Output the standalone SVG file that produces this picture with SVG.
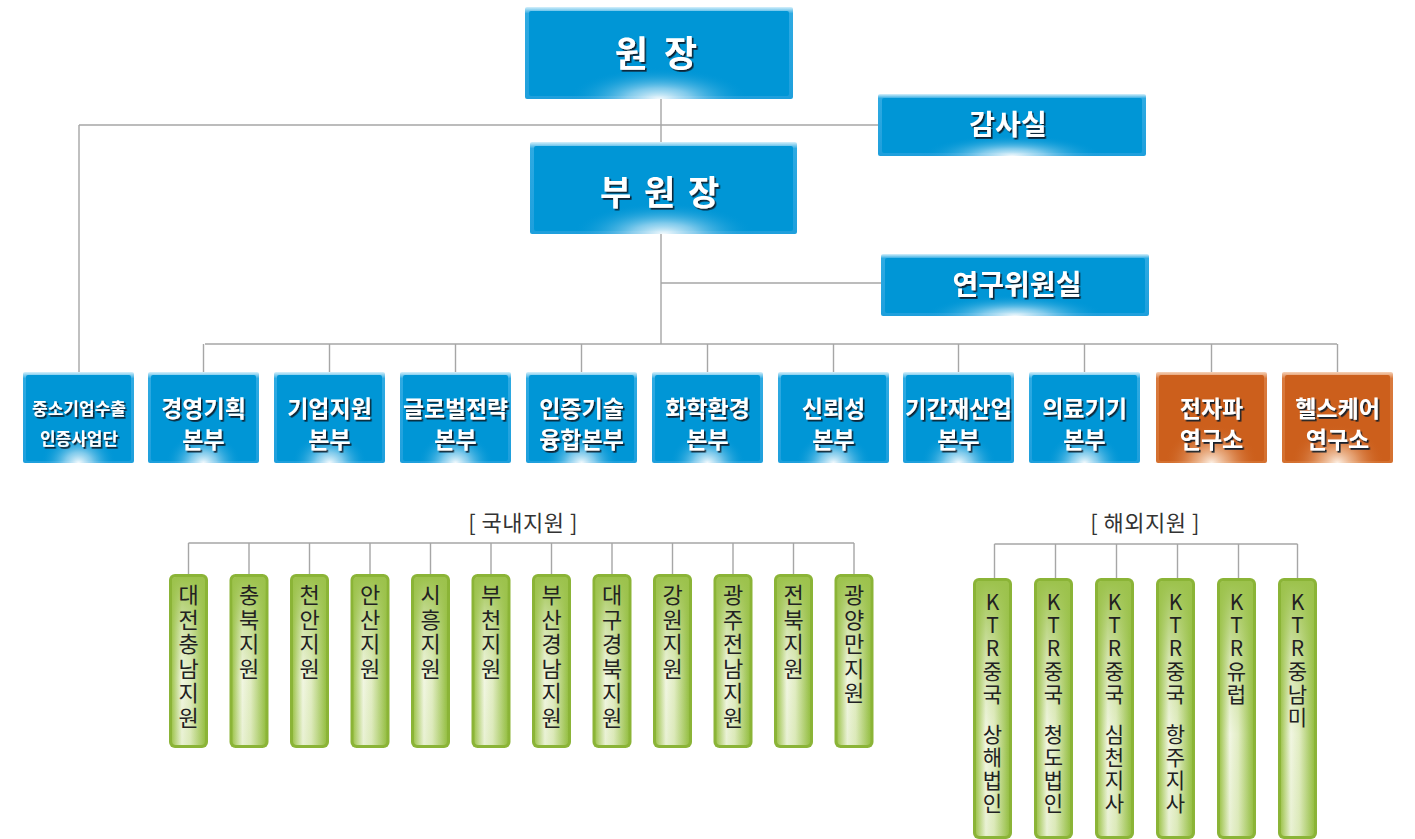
<svg xmlns="http://www.w3.org/2000/svg" width="1415" height="839" viewBox="0 0 1415 839">
<defs>
<linearGradient id="gBlueEdge" x1="0" y1="0" x2="0" y2="1"><stop offset="0" stop-color="#d6f0fb"/><stop offset="0.07" stop-color="#2eaae2"/><stop offset="1" stop-color="#1e9fdc"/></linearGradient>
<radialGradient id="gBlueGlow" cx="0.5" cy="1" r="0.34" fx="0.5" fy="1"><stop offset="0" stop-color="#ffffff" stop-opacity="0.95"/><stop offset="0.35" stop-color="#c4e6f7" stop-opacity="0.65"/><stop offset="1" stop-color="#0096d6" stop-opacity="0"/></radialGradient>
<linearGradient id="gOrEdge" x1="0" y1="0" x2="0" y2="1"><stop offset="0" stop-color="#f6d2b8"/><stop offset="0.07" stop-color="#d97a3e"/><stop offset="1" stop-color="#d4702f"/></linearGradient>
<radialGradient id="gOrGlow" cx="0.5" cy="1" r="0.42" fx="0.5" fy="1"><stop offset="0" stop-color="#fff6ec" stop-opacity="0.95"/><stop offset="0.4" stop-color="#f2c4a0" stop-opacity="0.6"/><stop offset="1" stop-color="#cc5f1c" stop-opacity="0"/></radialGradient>
<linearGradient id="gGreenH" x1="0" y1="0" x2="1" y2="0"><stop offset="0" stop-color="#a2c653"/><stop offset="0.3" stop-color="#f1f6e2"/><stop offset="0.55" stop-color="#e2edc4"/><stop offset="1" stop-color="#96bf45"/></linearGradient>
<linearGradient id="gGreenV" x1="0" y1="0" x2="0" y2="1"><stop offset="0" stop-color="#9cc24c" stop-opacity="1"/><stop offset="0.3" stop-color="#9cc24c" stop-opacity="0.35"/><stop offset="0.6" stop-color="#9cc24c" stop-opacity="0"/><stop offset="1" stop-color="#9cc24c" stop-opacity="0.1"/></linearGradient>
<filter id="ts" x="-10%" y="-20%" width="130%" height="150%"><feDropShadow dx="1.6" dy="1.8" stdDeviation="0.5" flood-color="#111d2a" flood-opacity="0.95"/></filter>
</defs>
<style>
.edgeB{fill:url(#gBlueEdge)}
.coreB{fill:#0096d6}
.glowB{fill:url(#gBlueGlow)}
.edgeO{fill:url(#gOrEdge)}
.coreO{fill:#cc5f1c}
.glowO{fill:url(#gOrGlow)}
.gOut{fill:#8bb437}
.gIn{fill:url(#gGreenH)}
.gOv{fill:url(#gGreenV)}
.tw{font-family:"Noto Sans CJK KR","Noto Sans",sans-serif;font-weight:700;fill:#ffffff;text-anchor:middle;dominant-baseline:central;filter:url(#ts)}
.tv{font-family:"Noto Sans CJK KR","Noto Sans",sans-serif;font-weight:400;fill:#222222;font-size:21px;text-anchor:middle;dominant-baseline:central}
.dv{font-size:22px}
.lab{font-family:"Noto Sans CJK KR","Noto Sans",sans-serif;font-weight:400;fill:#333333;font-size:22px;letter-spacing:0.5px;text-anchor:middle;dominant-baseline:central}
.ln{stroke:#a6a6a6;stroke-width:1.4;fill:none}
</style>
<rect width="1415" height="839" fill="#ffffff"/>
<g id="connectors">
<path class="ln" d="M661 98V142M661 234V344M79 125H878M79 125V372M661 283H881M205 344H1337"/>
<path class="ln" d="M203.5 344V372M329.5 344V372M455.5 344V372M581.5 344V372M707.5 344V372M833.5 344V372M958.5 344V372M1084.5 344V372M1211.5 344V372M1337.5 344V372"/>
<path class="ln" d="M188.5 543H854M188.5 543V574M249 543V574M309.5 543V574M370 543V574M430.5 543V574M491 543V574M551.5 543V574M612 543V574M672.5 543V574M733 543V574M793.5 543V574M854 543V574"/>
<path class="ln" d="M994.5 544H1297.5M994.5 544V578M1055.5 544V578M1116.5 544V578M1177.5 544V578M1238.5 544V578M1297.5 544V578"/>
</g>
<g id="n-wonjang">
<rect class="edgeB" x="525" y="7" width="268" height="92" rx="2"/>
<rect class="coreB" x="529" y="11" width="260" height="85" rx="2"/>
<rect class="glowB" x="525" y="7" width="268" height="92" rx="2"/>
<text class="tw" x="658" y="51" font-size="36" letter-spacing="4">원 장</text>
</g>
<g id="n-gamsa">
<rect class="edgeB" x="878" y="94" width="268" height="62" rx="2"/>
<rect class="coreB" x="882" y="98" width="260" height="55" rx="2"/>
<rect class="glowB" x="878" y="94" width="268" height="62" rx="2"/>
<text class="tw" x="1008" y="123" font-size="28">감사실</text>
</g>
<g id="n-buwonjang">
<rect class="edgeB" x="530" y="142" width="267" height="92" rx="2"/>
<rect class="coreB" x="534" y="146" width="259" height="85" rx="2"/>
<rect class="glowB" x="530" y="142" width="267" height="92" rx="2"/>
<text class="tw" x="661" y="190" font-size="34" letter-spacing="2.5">부 원 장</text>
</g>
<g id="n-yeongu">
<rect class="edgeB" x="881" y="254" width="268" height="62" rx="2"/>
<rect class="coreB" x="885" y="258" width="260" height="55" rx="2"/>
<rect class="glowB" x="881" y="254" width="268" height="62" rx="2"/>
<text class="tw" x="1017" y="283" font-size="28">연구위원실</text>
</g>
<g id="n-r0">
<rect class="edgeB" x="23" y="372" width="111" height="91" rx="2"/>
<rect class="coreB" x="26" y="375" width="105" height="86" rx="2"/>
<rect class="glowB" x="23" y="372" width="111" height="91" rx="2"/>
<text class="tw" x="79" y="407" font-size="17">중소기업수출</text>
<text class="tw" x="79" y="437" font-size="17">인증사업단</text>
</g>
<g id="n-r1">
<rect class="edgeB" x="148" y="372" width="111" height="91" rx="2"/>
<rect class="coreB" x="151" y="375" width="105" height="86" rx="2"/>
<rect class="glowB" x="148" y="372" width="111" height="91" rx="2"/>
<text class="tw" x="203.5" y="407" font-size="23">경영기획</text>
<text class="tw" x="203.5" y="438" font-size="23">본부</text>
</g>
<g id="n-r2">
<rect class="edgeB" x="274" y="372" width="111" height="91" rx="2"/>
<rect class="coreB" x="277" y="375" width="105" height="86" rx="2"/>
<rect class="glowB" x="274" y="372" width="111" height="91" rx="2"/>
<text class="tw" x="329.5" y="407" font-size="23">기업지원</text>
<text class="tw" x="329.5" y="438" font-size="23">본부</text>
</g>
<g id="n-r3">
<rect class="edgeB" x="400" y="372" width="111" height="91" rx="2"/>
<rect class="coreB" x="403" y="375" width="105" height="86" rx="2"/>
<rect class="glowB" x="400" y="372" width="111" height="91" rx="2"/>
<text class="tw" x="455.5" y="407" font-size="23" textLength="105" lengthAdjust="spacingAndGlyphs">글로벌전략</text>
<text class="tw" x="455.5" y="438" font-size="23">본부</text>
</g>
<g id="n-r4">
<rect class="edgeB" x="526" y="372" width="111" height="91" rx="2"/>
<rect class="coreB" x="529" y="375" width="105" height="86" rx="2"/>
<rect class="glowB" x="526" y="372" width="111" height="91" rx="2"/>
<text class="tw" x="581.5" y="407" font-size="23">인증기술</text>
<text class="tw" x="581.5" y="438" font-size="23">융합본부</text>
</g>
<g id="n-r5">
<rect class="edgeB" x="652" y="372" width="111" height="91" rx="2"/>
<rect class="coreB" x="655" y="375" width="105" height="86" rx="2"/>
<rect class="glowB" x="652" y="372" width="111" height="91" rx="2"/>
<text class="tw" x="707.5" y="407" font-size="23">화학환경</text>
<text class="tw" x="707.5" y="438" font-size="23">본부</text>
</g>
<g id="n-r6">
<rect class="edgeB" x="778" y="372" width="111" height="91" rx="2"/>
<rect class="coreB" x="781" y="375" width="105" height="86" rx="2"/>
<rect class="glowB" x="778" y="372" width="111" height="91" rx="2"/>
<text class="tw" x="833.5" y="407" font-size="23">신뢰성</text>
<text class="tw" x="833.5" y="438" font-size="23">본부</text>
</g>
<g id="n-r7">
<rect class="edgeB" x="903" y="372" width="111" height="91" rx="2"/>
<rect class="coreB" x="906" y="375" width="105" height="86" rx="2"/>
<rect class="glowB" x="903" y="372" width="111" height="91" rx="2"/>
<text class="tw" x="958.5" y="407" font-size="23" textLength="107" lengthAdjust="spacingAndGlyphs">기간재산업</text>
<text class="tw" x="958.5" y="438" font-size="23">본부</text>
</g>
<g id="n-r8">
<rect class="edgeB" x="1029" y="372" width="111" height="91" rx="2"/>
<rect class="coreB" x="1032" y="375" width="105" height="86" rx="2"/>
<rect class="glowB" x="1029" y="372" width="111" height="91" rx="2"/>
<text class="tw" x="1084.5" y="407" font-size="23">의료기기</text>
<text class="tw" x="1084.5" y="438" font-size="23">본부</text>
</g>
<g id="n-r9">
<rect class="edgeO" x="1156" y="372" width="111" height="91" rx="2"/>
<rect class="coreO" x="1159" y="375" width="105" height="86" rx="2"/>
<rect class="glowO" x="1156" y="372" width="111" height="91" rx="2"/>
<text class="tw" x="1211.5" y="407" font-size="23">전자파</text>
<text class="tw" x="1211.5" y="438" font-size="23">연구소</text>
</g>
<g id="n-r10">
<rect class="edgeO" x="1282" y="372" width="111" height="91" rx="2"/>
<rect class="coreO" x="1285" y="375" width="105" height="86" rx="2"/>
<rect class="glowO" x="1282" y="372" width="111" height="91" rx="2"/>
<text class="tw" x="1337.5" y="407" font-size="23">헬스케어</text>
<text class="tw" x="1337.5" y="438" font-size="23">연구소</text>
</g>
<g id="label-domestic"><text class="lab" x="523" y="521">[ 국내지원 ]</text></g>
<g id="label-overseas"><text class="lab" x="1145" y="521">[ 해외지원 ]</text></g>
<g id="d0"><rect class="gOut" x="169" y="574" width="39" height="174" rx="6"/><rect class="gIn" x="172" y="577" width="33" height="168" rx="4"/><rect class="gOv" x="172" y="577" width="33" height="168" rx="4"/>
<text class="tv dv"><tspan x="188.5" y="593">대</tspan><tspan x="188.5" y="617.5">전</tspan><tspan x="188.5" y="642">충</tspan><tspan x="188.5" y="666.5">남</tspan><tspan x="188.5" y="691">지</tspan><tspan x="188.5" y="715.5">원</tspan></text></g>
<g id="d1"><rect class="gOut" x="229.5" y="574" width="39" height="174" rx="6"/><rect class="gIn" x="232.5" y="577" width="33" height="168" rx="4"/><rect class="gOv" x="232.5" y="577" width="33" height="168" rx="4"/>
<text class="tv dv"><tspan x="249" y="593">충</tspan><tspan x="249" y="617.5">북</tspan><tspan x="249" y="642">지</tspan><tspan x="249" y="666.5">원</tspan></text></g>
<g id="d2"><rect class="gOut" x="290" y="574" width="39" height="174" rx="6"/><rect class="gIn" x="293" y="577" width="33" height="168" rx="4"/><rect class="gOv" x="293" y="577" width="33" height="168" rx="4"/>
<text class="tv dv"><tspan x="309.5" y="593">천</tspan><tspan x="309.5" y="617.5">안</tspan><tspan x="309.5" y="642">지</tspan><tspan x="309.5" y="666.5">원</tspan></text></g>
<g id="d3"><rect class="gOut" x="350.5" y="574" width="39" height="174" rx="6"/><rect class="gIn" x="353.5" y="577" width="33" height="168" rx="4"/><rect class="gOv" x="353.5" y="577" width="33" height="168" rx="4"/>
<text class="tv dv"><tspan x="370" y="593">안</tspan><tspan x="370" y="617.5">산</tspan><tspan x="370" y="642">지</tspan><tspan x="370" y="666.5">원</tspan></text></g>
<g id="d4"><rect class="gOut" x="411" y="574" width="39" height="174" rx="6"/><rect class="gIn" x="414" y="577" width="33" height="168" rx="4"/><rect class="gOv" x="414" y="577" width="33" height="168" rx="4"/>
<text class="tv dv"><tspan x="430.5" y="593">시</tspan><tspan x="430.5" y="617.5">흥</tspan><tspan x="430.5" y="642">지</tspan><tspan x="430.5" y="666.5">원</tspan></text></g>
<g id="d5"><rect class="gOut" x="471.5" y="574" width="39" height="174" rx="6"/><rect class="gIn" x="474.5" y="577" width="33" height="168" rx="4"/><rect class="gOv" x="474.5" y="577" width="33" height="168" rx="4"/>
<text class="tv dv"><tspan x="491" y="593">부</tspan><tspan x="491" y="617.5">천</tspan><tspan x="491" y="642">지</tspan><tspan x="491" y="666.5">원</tspan></text></g>
<g id="d6"><rect class="gOut" x="532" y="574" width="39" height="174" rx="6"/><rect class="gIn" x="535" y="577" width="33" height="168" rx="4"/><rect class="gOv" x="535" y="577" width="33" height="168" rx="4"/>
<text class="tv dv"><tspan x="551.5" y="593">부</tspan><tspan x="551.5" y="617.5">산</tspan><tspan x="551.5" y="642">경</tspan><tspan x="551.5" y="666.5">남</tspan><tspan x="551.5" y="691">지</tspan><tspan x="551.5" y="715.5">원</tspan></text></g>
<g id="d7"><rect class="gOut" x="592.5" y="574" width="39" height="174" rx="6"/><rect class="gIn" x="595.5" y="577" width="33" height="168" rx="4"/><rect class="gOv" x="595.5" y="577" width="33" height="168" rx="4"/>
<text class="tv dv"><tspan x="612" y="593">대</tspan><tspan x="612" y="617.5">구</tspan><tspan x="612" y="642">경</tspan><tspan x="612" y="666.5">북</tspan><tspan x="612" y="691">지</tspan><tspan x="612" y="715.5">원</tspan></text></g>
<g id="d8"><rect class="gOut" x="653" y="574" width="39" height="174" rx="6"/><rect class="gIn" x="656" y="577" width="33" height="168" rx="4"/><rect class="gOv" x="656" y="577" width="33" height="168" rx="4"/>
<text class="tv dv"><tspan x="672.5" y="593">강</tspan><tspan x="672.5" y="617.5">원</tspan><tspan x="672.5" y="642">지</tspan><tspan x="672.5" y="666.5">원</tspan></text></g>
<g id="d9"><rect class="gOut" x="713.5" y="574" width="39" height="174" rx="6"/><rect class="gIn" x="716.5" y="577" width="33" height="168" rx="4"/><rect class="gOv" x="716.5" y="577" width="33" height="168" rx="4"/>
<text class="tv dv"><tspan x="733" y="593">광</tspan><tspan x="733" y="617.5">주</tspan><tspan x="733" y="642">전</tspan><tspan x="733" y="666.5">남</tspan><tspan x="733" y="691">지</tspan><tspan x="733" y="715.5">원</tspan></text></g>
<g id="d10"><rect class="gOut" x="774" y="574" width="39" height="174" rx="6"/><rect class="gIn" x="777" y="577" width="33" height="168" rx="4"/><rect class="gOv" x="777" y="577" width="33" height="168" rx="4"/>
<text class="tv dv"><tspan x="793.5" y="593">전</tspan><tspan x="793.5" y="617.5">북</tspan><tspan x="793.5" y="642">지</tspan><tspan x="793.5" y="666.5">원</tspan></text></g>
<g id="d11"><rect class="gOut" x="834.5" y="574" width="39" height="174" rx="6"/><rect class="gIn" x="837.5" y="577" width="33" height="168" rx="4"/><rect class="gOv" x="837.5" y="577" width="33" height="168" rx="4"/>
<text class="tv dv"><tspan x="854" y="593">광</tspan><tspan x="854" y="617.5">양</tspan><tspan x="854" y="642">만</tspan><tspan x="854" y="666.5">지</tspan><tspan x="854" y="691">원</tspan></text></g>
<g id="o0"><rect class="gOut" x="973" y="578" width="39" height="261" rx="6"/><rect class="gIn" x="976" y="581" width="33" height="255" rx="4"/><rect class="gOv" x="976" y="581" width="33" height="255" rx="4"/>
<text class="tv" xml:space="preserve"><tspan x="992.5" y="601">K</tspan><tspan x="992.5" y="624">T</tspan><tspan x="992.5" y="647">R</tspan><tspan x="992.5" y="670">중</tspan><tspan x="992.5" y="693">국</tspan><tspan x="992.5" y="713"> </tspan><tspan x="992.5" y="733">상</tspan><tspan x="992.5" y="756">해</tspan><tspan x="992.5" y="779">법</tspan><tspan x="992.5" y="802">인</tspan></text></g>
<g id="o1"><rect class="gOut" x="1034" y="578" width="39" height="261" rx="6"/><rect class="gIn" x="1037" y="581" width="33" height="255" rx="4"/><rect class="gOv" x="1037" y="581" width="33" height="255" rx="4"/>
<text class="tv" xml:space="preserve"><tspan x="1053.5" y="601">K</tspan><tspan x="1053.5" y="624">T</tspan><tspan x="1053.5" y="647">R</tspan><tspan x="1053.5" y="670">중</tspan><tspan x="1053.5" y="693">국</tspan><tspan x="1053.5" y="713"> </tspan><tspan x="1053.5" y="733">청</tspan><tspan x="1053.5" y="756">도</tspan><tspan x="1053.5" y="779">법</tspan><tspan x="1053.5" y="802">인</tspan></text></g>
<g id="o2"><rect class="gOut" x="1095" y="578" width="39" height="261" rx="6"/><rect class="gIn" x="1098" y="581" width="33" height="255" rx="4"/><rect class="gOv" x="1098" y="581" width="33" height="255" rx="4"/>
<text class="tv" xml:space="preserve"><tspan x="1114.5" y="601">K</tspan><tspan x="1114.5" y="624">T</tspan><tspan x="1114.5" y="647">R</tspan><tspan x="1114.5" y="670">중</tspan><tspan x="1114.5" y="693">국</tspan><tspan x="1114.5" y="713"> </tspan><tspan x="1114.5" y="733">심</tspan><tspan x="1114.5" y="756">천</tspan><tspan x="1114.5" y="779">지</tspan><tspan x="1114.5" y="802">사</tspan></text></g>
<g id="o3"><rect class="gOut" x="1156" y="578" width="39" height="261" rx="6"/><rect class="gIn" x="1159" y="581" width="33" height="255" rx="4"/><rect class="gOv" x="1159" y="581" width="33" height="255" rx="4"/>
<text class="tv" xml:space="preserve"><tspan x="1175.5" y="601">K</tspan><tspan x="1175.5" y="624">T</tspan><tspan x="1175.5" y="647">R</tspan><tspan x="1175.5" y="670">중</tspan><tspan x="1175.5" y="693">국</tspan><tspan x="1175.5" y="713"> </tspan><tspan x="1175.5" y="733">항</tspan><tspan x="1175.5" y="756">주</tspan><tspan x="1175.5" y="779">지</tspan><tspan x="1175.5" y="802">사</tspan></text></g>
<g id="o4"><rect class="gOut" x="1217" y="578" width="39" height="261" rx="6"/><rect class="gIn" x="1220" y="581" width="33" height="255" rx="4"/><rect class="gOv" x="1220" y="581" width="33" height="255" rx="4"/>
<text class="tv"><tspan x="1236.5" y="601">K</tspan><tspan x="1236.5" y="624">T</tspan><tspan x="1236.5" y="647">R</tspan><tspan x="1236.5" y="670">유</tspan><tspan x="1236.5" y="693">럽</tspan></text></g>
<g id="o5"><rect class="gOut" x="1278" y="578" width="39" height="261" rx="6"/><rect class="gIn" x="1281" y="581" width="33" height="255" rx="4"/><rect class="gOv" x="1281" y="581" width="33" height="255" rx="4"/>
<text class="tv"><tspan x="1297.5" y="601">K</tspan><tspan x="1297.5" y="624">T</tspan><tspan x="1297.5" y="647">R</tspan><tspan x="1297.5" y="670">중</tspan><tspan x="1297.5" y="693">남</tspan><tspan x="1297.5" y="716">미</tspan></text></g>
</svg>
